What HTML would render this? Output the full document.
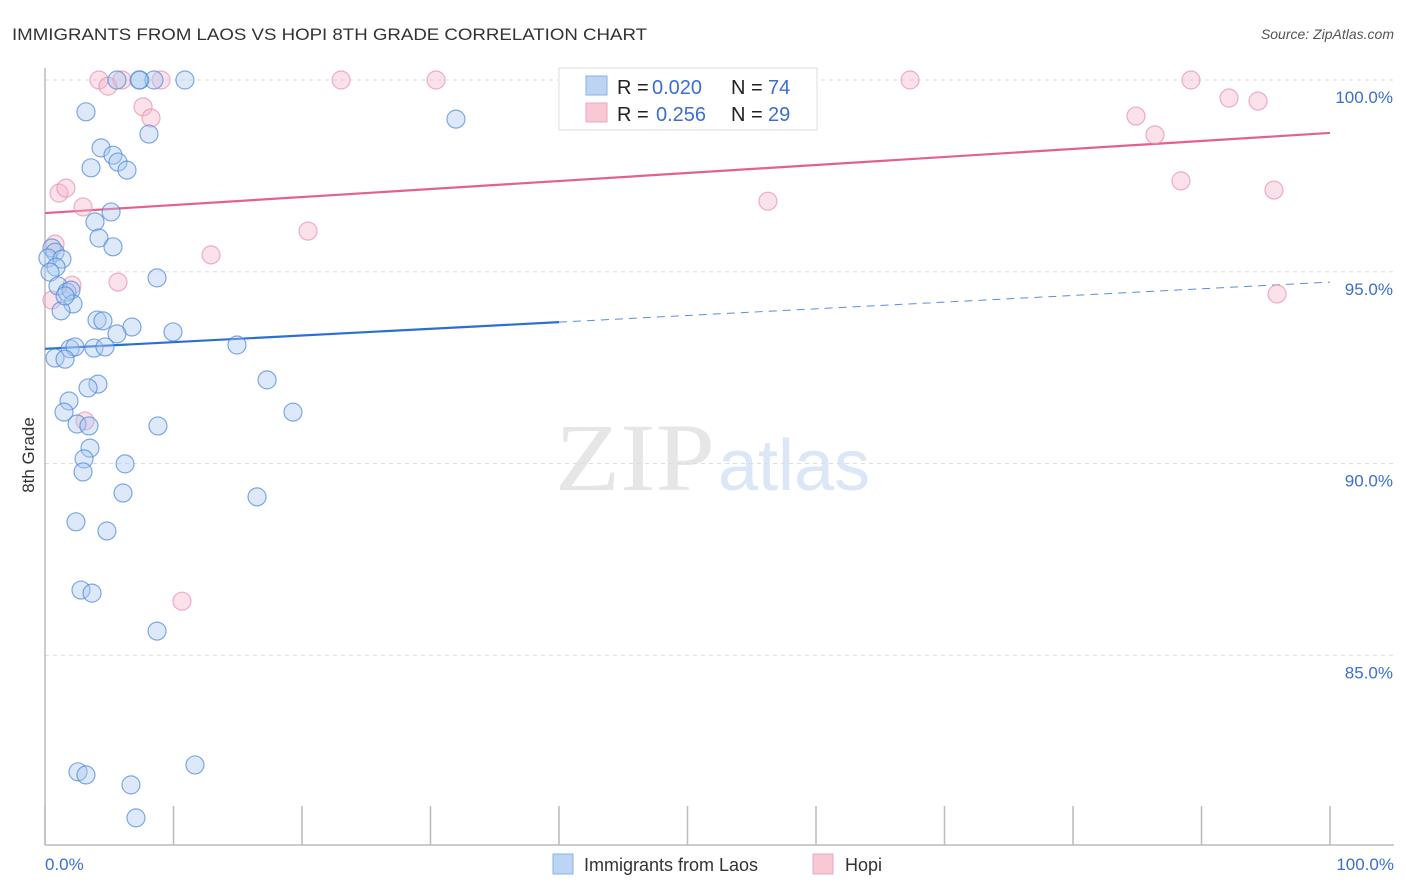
<!DOCTYPE html>
<html><head><meta charset="utf-8"><style>
html,body{margin:0;padding:0;background:#fff;}
svg{display:block;font-family:"Liberation Sans",sans-serif;}
</style></head><body>
<svg id="chart" width="1406" height="892" viewBox="0 0 1406 892" xmlns="http://www.w3.org/2000/svg">
<text x="12" y="40" font-size="17" fill="#333" textLength="635" lengthAdjust="spacingAndGlyphs">IMMIGRANTS FROM LAOS VS HOPI 8TH GRADE CORRELATION CHART</text>
<text x="1394" y="39" font-size="14" fill="#555" font-style="italic" text-anchor="end">Source: ZipAtlas.com</text>
<g>
<text x="555" y="490" font-size="96" fill="#e6e6e6" font-family="Liberation Serif,serif" textLength="160" lengthAdjust="spacingAndGlyphs">ZIP</text>
<text x="718" y="490" font-size="72" fill="#dbe6f6">atlas</text>
</g>
<g id="grid"></g>
<g id="axes"></g>
<g id="trends"></g>
<g id="points"></g>
<text transform="translate(34,455) rotate(-90)" font-size="17" fill="#333" text-anchor="middle">8th Grade</text>
<text x="45" y="870" font-size="17" fill="#3a6fd0">0.0%</text>
<text x="1394" y="870" font-size="17" fill="#3a6fd0" text-anchor="end">100.0%</text>
<g>
<rect x="559" y="68" width="258" height="62" fill="#fff" stroke="#ddd"/>
<rect x="586" y="76" width="21" height="19" fill="#bcd5f5" stroke="#8ab0e6"/>
<text x="617" y="94" font-size="20" fill="#222">R = </text><text x="652" y="94" font-size="20" fill="#3a6fd0">0.020</text>
<text x="731" y="94" font-size="20" fill="#222">N = </text><text x="768" y="94" font-size="20" fill="#3a6fd0">74</text>
<rect x="586" y="103" width="21" height="19" fill="#f9c8d5" stroke="#eea5ba"/>
<text x="617" y="121" font-size="20" fill="#222">R = </text><text x="656" y="121" font-size="20" fill="#3a6fd0">0.256</text>
<text x="731" y="121" font-size="20" fill="#222">N = </text><text x="768" y="121" font-size="20" fill="#3a6fd0">29</text>
</g>
<g>
<rect x="553" y="854" width="20" height="20" fill="#bcd5f5" stroke="#8ab0e6"/>
<text x="584" y="871" font-size="18" fill="#333">Immigrants from Laos</text>
<rect x="813" y="854" width="20" height="20" fill="#f9c8d5" stroke="#eea5ba"/>
<text x="845" y="871" font-size="18" fill="#333">Hopi</text>
</g>
</svg>
<script>
const yTicks=[100,95,90,85];
const yTickLabels=["100.0%","95.0%","90.0%","85.0%"];
const xTicks=[0,10,20,30,40,50,60,70,80,90,100];
const laosX=[7.39,8.48,7.32,10.89,5.60,31.98,3.19,8.09,4.36,5.29,5.68,3.58,6.38,5.14,3.89,4.20,5.29,8.72,0.54,0.78,0.23,1.32,0.86,0.39,1.01,1.71,2.02,2.18,1.25,1.56,4.05,4.51,6.77,5.60,9.96,14.94,1.95,2.33,3.81,4.67,0.78,1.56,17.28,4.12,3.35,1.87,1.48,19.30,8.79,2.49,3.42,3.50,3.04,2.96,6.23,6.07,16.50,2.41,4.82,2.80,3.66,8.72,2.57,3.19,11.67,6.69,7.08];
const laosY=[100,100,100,100,100,98.98,99.17,98.59,98.23,98.04,97.86,97.71,97.65,96.56,96.30,95.88,95.65,94.84,95.62,95.51,95.36,95.33,95.12,94.99,94.63,94.47,94.52,94.16,93.98,94.37,93.74,93.72,93.56,93.38,93.43,93.09,92.99,93.04,93.01,93.04,92.75,92.72,92.18,92.07,91.97,91.63,91.34,91.34,90.98,91.03,90.98,90.40,90.12,89.78,89.99,89.23,89.13,88.48,88.24,86.70,86.62,85.63,81.96,81.88,82.14,81.62,80.76];
const hopiX=[4.20,4.90,5.99,9.03,23.04,30.43,67.32,89.18,7.63,8.25,92.14,94.40,84.90,86.38,1.09,1.63,2.96,88.40,95.64,56.26,20.47,12.92,0.78,5.68,2.10,0.54,3.11,10.66,95.88];
const hopiY=[100,99.84,100,100,100,100,100,100,99.30,99.01,99.53,99.45,99.06,98.57,97.05,97.18,96.69,97.37,97.13,96.84,96.06,95.44,95.72,94.73,94.65,94.26,91.11,86.41,94.42];
const laosTrend=[92.99,94.73];
const hopiTrend=[96.53,98.62];
const laosSolidEnd=40;

const NS="http://www.w3.org/2000/svg";
const X0=45,X1=1330,Y100=80,PXPER=38.35;
const sx=v=>X0+(X1-X0)*v/100;
const sy=v=>Y100+(100-v)*PXPER;
function mk(tag,attrs,parent){const e=document.createElementNS(NS,tag);for(const k in attrs)e.setAttribute(k,attrs[k]);parent.appendChild(e);return e;}
const grid=document.getElementById('grid'),axes=document.getElementById('axes'),trends=document.getElementById('trends'),pts=document.getElementById('points'),svg=document.getElementById('chart');
yTicks.forEach((t,i)=>{
  const l=mk('line',{x1:X0,x2:1394,y1:sy(t),y2:sy(t),stroke:'#ddd','stroke-dasharray':'4,4'},grid);
  
  
  const tx=mk('text',{x:1393,y:sy(t)+23,'font-size':17,fill:'#3a6fd0','text-anchor':'end'},svg);
  tx.textContent=yTickLabels[i];
  
  
});
const ya=mk('line',{x1:X0,x2:X0,y1:68,y2:845,stroke:'#bbb','stroke-width':1.5},axes);


const xa=mk('line',{x1:X0,x2:1394,y1:845,y2:845,stroke:'#bbb','stroke-width':1.5},axes);


xTicks.forEach(t=>{
  const l=mk('line',{x1:sx(t),x2:sx(t),y1:806,y2:845,stroke:'#bbb','stroke-width':1.5},axes);
  
  
});
function drawPts(xs,ys,fill,stroke,name){
  xs.forEach((x,i)=>{
    const c=mk('circle',{cx:sx(x),cy:sy(ys[i]),r:9,fill:fill,'fill-opacity':0.4,stroke:stroke,'stroke-opacity':0.7,'stroke-width':1.2},pts);
    
    
  });
}
drawPts(hopiX,hopiY,'#f5b5c8','#e890a8','hopi-point');
drawPts(laosX,laosY,'#a9c8f0','#4a88d8','laos-point');
const lv=x=>laosTrend[0]+(laosTrend[1]-laosTrend[0])*x/100;
const t1=mk('line',{x1:sx(0),y1:sy(lv(0)),x2:sx(laosSolidEnd),y2:sy(lv(laosSolidEnd)),stroke:'#2a6fd6','stroke-width':2.2},trends);


const t2=mk('line',{x1:sx(laosSolidEnd),y1:sy(lv(laosSolidEnd)),x2:sx(100),y2:sy(lv(100)),stroke:'#5a8fdc','stroke-width':1,'stroke-dasharray':'8,6'},trends);


const t3=mk('line',{x1:sx(0),y1:sy(hopiTrend[0]),x2:sx(100),y2:sy(hopiTrend[1]),stroke:'#e5608a','stroke-width':2.2},trends);


</script>
</body></html>
